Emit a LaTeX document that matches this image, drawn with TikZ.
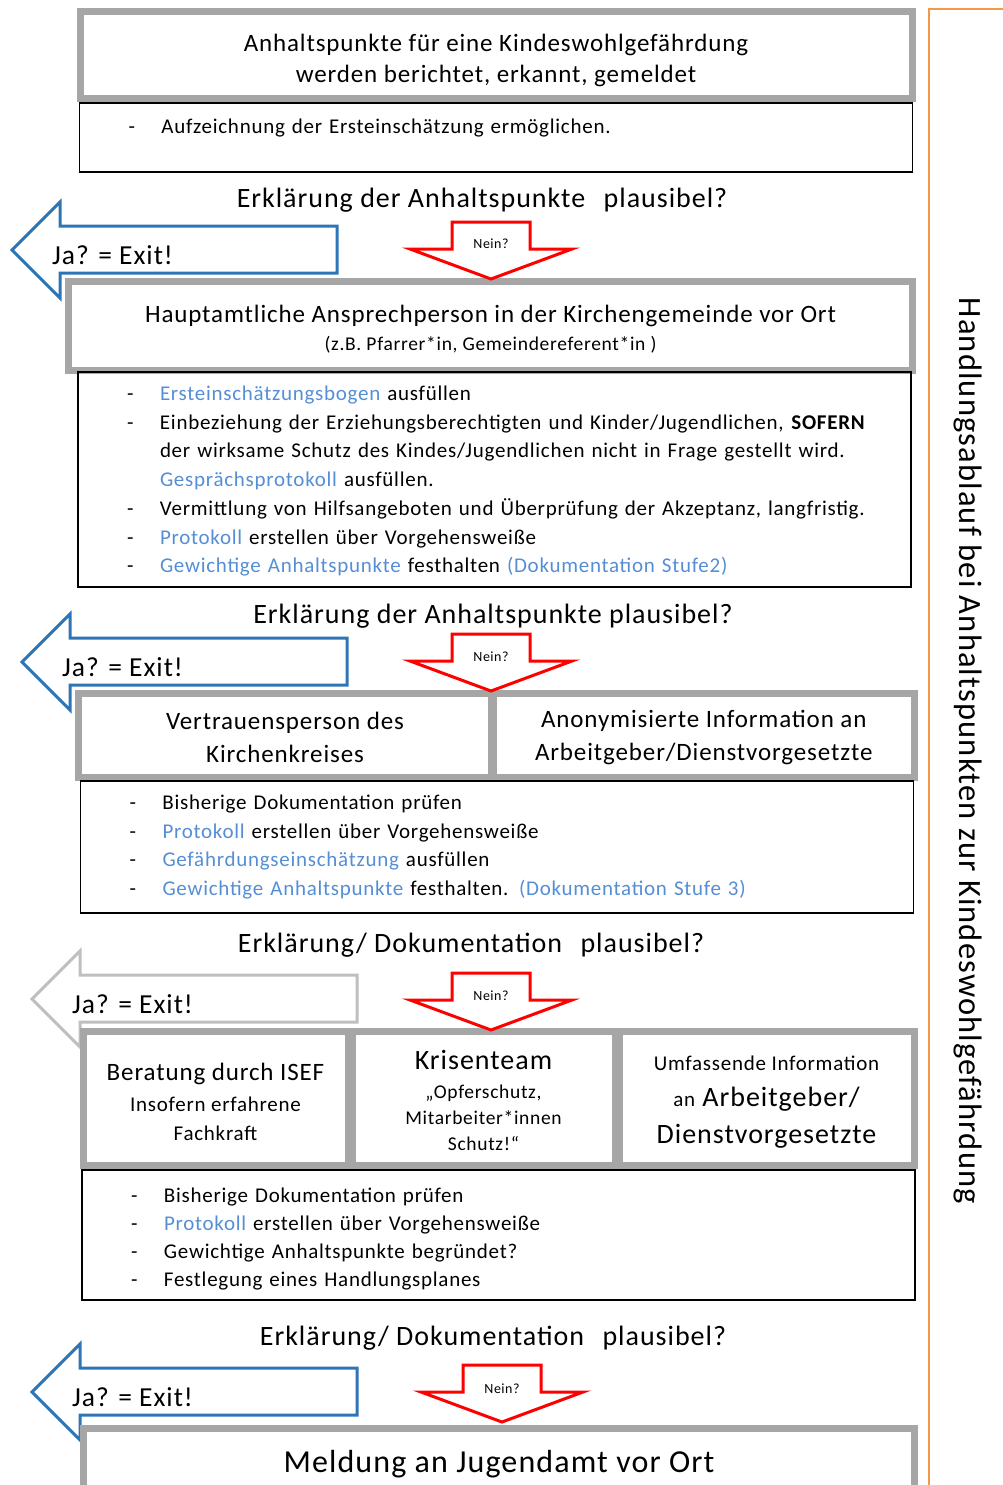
\documentclass[tikz,border=0pt]{standalone}
\usepackage{fontspec}
\setmainfont{Carlito}[LetterSpace=3.5]
\usetikzlibrary{positioning}

\definecolor{rahmengrau}{RGB}{166,166,166}
\definecolor{hellgrau}{RGB}{191,191,191}
\definecolor{pfeilblau}{RGB}{46,117,182}
\definecolor{linkblau}{RGB}{85,142,213}
\definecolor{randorange}{RGB}{247,150,70}

\newcommand{\pkt}[1]{\hspace*{39pt}\makebox[33pt][l]{-}#1}
\newcommand{\blau}[1]{\textcolor{linkblau}{#1}}

\begin{document}
\begin{tikzpicture}[x=1pt, y=-1pt, every node/.style={align=center, inner sep=0pt},
  rahmen/.style={draw=rahmengrau, line width=7pt},
  liste/.style={draw=black, line width=1.6pt, align=left, inner xsep=10pt, text width=813pt, font=\fontsize{21}{28.7}\selectfont},
  frage/.style={font=\fontsize{28}{32}\selectfont},
  exittext/.style={anchor=west, font=\fontsize{27.5}{30}\selectfont},
  jaexit/.style={draw=pfeilblau, line width=3pt},
  neinpfeil/.style={draw=red, line width=3pt, fill=white},
  neintext/.style={font=\fontsize{14}{16}\selectfont}]

\useasboundingbox (0,0) rectangle (1002,1485);

% Rahmen rechts
\draw[draw=randorange, line width=2.5pt] (1010,9) -- (929,9) -- (929,1495);
\node (ablauf) [rotate=-90, font=\fontsize{32.5}{40}\selectfont] at (968,751) {Handlungsablauf bei Anhaltspunkten zur Kindeswohlgefährdung};

% Anhaltspunkte
\node (start) [rahmen, minimum width=832, minimum height=87, font=\fontsize{25}{31}\selectfont] at (496,55) {\rule{0pt}{28pt}Anhaltspunkte für eine Kindeswohlgefährdung\\ werden berichtet, erkannt, gemeldet};
\node (startinfo) [liste, minimum height=69, text height=14pt, text depth=23pt] at (496,137.5) {\pkt{Aufzeichnung der Ersteinschätzung ermöglichen.}};

\node (frage1) [frage] at (482,200) {Erklärung der Anhaltspunkte\hspace{0.4em} plausibel?};
\coordinate (ja1) at (12,250);
\draw[jaexit] (ja1) -- ++(48,-48) -- ++(0,24) -- ++(277,0) -- ++(0,47) -- ++(-277,0) -- ++(0,25) -- cycle;
\node (exit1) [exittext] at (52,255) {Ja? = Exit!};

% Ansprechperson vor Ort
\node (kontakt) [rahmen, minimum width=844, minimum height=89, font=\fontsize{19.5}{28}\selectfont] at (490.5,325.5) {{\fontsize{25}{28}\selectfont\rule{0pt}{25pt}Hauptamtliche Ansprechperson in der Kirchengemeinde vor Ort}\\ (z.B. Pfarrer*in, Gemeindereferent*in )};
\node (kontaktinfo) [liste, minimum height=215] at (494.5,479.5) {\rule{0pt}{18pt}\pkt{\blau{Ersteinschätzungsbogen} ausfüllen}\\
\pkt{Einbeziehung der Erziehungsberechtigten und Kinder/Jugendlichen, \textbf{SOFERN}}\\
\hspace*{72pt}der wirksame Schutz des Kindes/Jugendlichen nicht in Frage gestellt wird.\\
\hspace*{72pt}\blau{Gesprächsprotokoll} ausfüllen.\\
\pkt{Vermittlung von Hilfsangeboten und Überprüfung der Akzeptanz, langfristig.}\\
\pkt{\blau{Protokoll} erstellen über Vorgehensweiße}\\
\pkt{\blau{Gewichtige Anhaltspunkte} festhalten \blau{(Dokumentation Stufe2)}}};

\coordinate (nein1) at (491,279);
\draw[neinpfeil] (nein1) -- ++(81,-30) -- ++(-42,0) -- ++(0,-27) -- ++(-78,0) -- ++(0,27) -- ++(-42,0) -- cycle;
\node (nein1text) [neintext] at (491,244) {Nein?};

% Kirchenkreis
\node (frage2) [frage] at (493,616) {Erklärung der Anhaltspunkte plausibel?};
\coordinate (ja2) at (22,662);
\draw[jaexit] (ja2) -- ++(48,-48) -- ++(0,24) -- ++(277,0) -- ++(0,47) -- ++(-277,0) -- ++(0,25) -- cycle;
\node (exit2) [exittext] at (62,667) {Ja? = Exit!};

\node (vertrauen) [rahmen, minimum width=413, minimum height=84, font=\fontsize{25}{33}\selectfont] at (285,735.5) {\rule{0pt}{22pt}Vertrauensperson des\\ Kirchenkreises};
\node (anonym) [rahmen, minimum width=420.5, minimum height=84, font=\fontsize{25}{33}\selectfont] at (703.75,735.5) {\rule{0pt}{22pt}Anonymisierte Information an\\ Arbeitgeber/Dienstvorgesetzte};
\node (stufe3info) [liste, minimum height=132] at (497,847) {\pkt{Bisherige Dokumentation prüfen}\\
\pkt{\blau{Protokoll} erstellen über Vorgehensweiße}\\
\pkt{\blau{Gefährdungseinschätzung} ausfüllen}\\
\pkt{\blau{Gewichtige Anhaltspunkte} festhalten. \blau{(Dokumentation Stufe 3)}}};

\coordinate (nein2) at (491,691);
\draw[neinpfeil] (nein2) -- ++(81,-30) -- ++(-42,0) -- ++(0,-27) -- ++(-78,0) -- ++(0,27) -- ++(-42,0) -- cycle;
\node (nein2text) [neintext] at (491,657) {Nein?};

% Krisenteam
\node (frage3) [frage] at (471,945) {Erklärung/ Dokumentation\hspace{0.4em} plausibel?};
\coordinate (ja3) at (32,999);
\draw[jaexit, draw=hellgrau] (ja3) -- ++(48,-48) -- ++(0,24) -- ++(277,0) -- ++(0,47) -- ++(-277,0) -- ++(0,25) -- cycle;
\node (exit3) [exittext] at (72,1004) {Ja? = Exit!};

\node (isef) [rahmen, minimum width=265, minimum height=134, font=\fontsize{21}{29}\selectfont] at (215.5,1098) {{\fontsize{25}{29}\selectfont\rule{0pt}{25pt}Beratung durch ISEF}\\[2pt] Insofern erfahrene\\ Fachkraft};
\node (krisen) [rahmen, minimum width=263, minimum height=134, font=\fontsize{19.5}{26}\selectfont] at (483.5,1098) {{\fontsize{28}{30}\selectfont\rule{0pt}{24pt}Krisenteam}\\[3pt] „Opferschutz,\\ Mitarbeiter*innen\\ Schutz!“};
\node (umfassend) [rahmen, minimum width=295, minimum height=134, font=\fontsize{28}{36}\selectfont] at (766.5,1098) {{\fontsize{21}{34}\selectfont\rule{0pt}{23pt}Umfassende Information}\\ {\fontsize{21}{24}\selectfont an} Arbeitgeber/\\[1pt] Dienstvorgesetzte};
\node (stufe4info) [liste, minimum height=130, font=\fontsize{21}{28}\selectfont] at (498.5,1235) {\rule{0pt}{22pt}\pkt{Bisherige Dokumentation prüfen}\\
\pkt{\blau{Protokoll} erstellen über Vorgehensweiße}\\
\pkt{Gewichtige Anhaltspunkte begründet?}\\
\pkt{Festlegung eines Handlungsplanes}};

\coordinate (nein3) at (491,1030);
\draw[neinpfeil] (nein3) -- ++(81,-30) -- ++(-42,0) -- ++(0,-27) -- ++(-78,0) -- ++(0,27) -- ++(-42,0) -- cycle;
\node (nein3text) [neintext] at (491,996) {Nein?};

% Jugendamt
\node (frage4) [frage] at (493,1338) {Erklärung/ Dokumentation\hspace{0.4em} plausibel?};
\coordinate (ja4) at (32,1392);
\draw[jaexit] (ja4) -- ++(48,-48) -- ++(0,24) -- ++(277,0) -- ++(0,47) -- ++(-277,0) -- ++(0,25) -- cycle;
\node (exit4) [exittext] at (72,1397) {Ja? = Exit!};

\node (jugendamt) [rahmen, minimum width=831, minimum height=67, font=\fontsize{32}{36}\selectfont] at (499,1462) {\rule{0pt}{27pt}Meldung an Jugendamt vor Ort};

\coordinate (nein4) at (502,1422);
\draw[neinpfeil] (nein4) -- ++(81,-30) -- ++(-42,0) -- ++(0,-27) -- ++(-78,0) -- ++(0,27) -- ++(-42,0) -- cycle;
\node (nein4text) [neintext] at (502,1389) {Nein?};
\end{tikzpicture}
\end{document}
